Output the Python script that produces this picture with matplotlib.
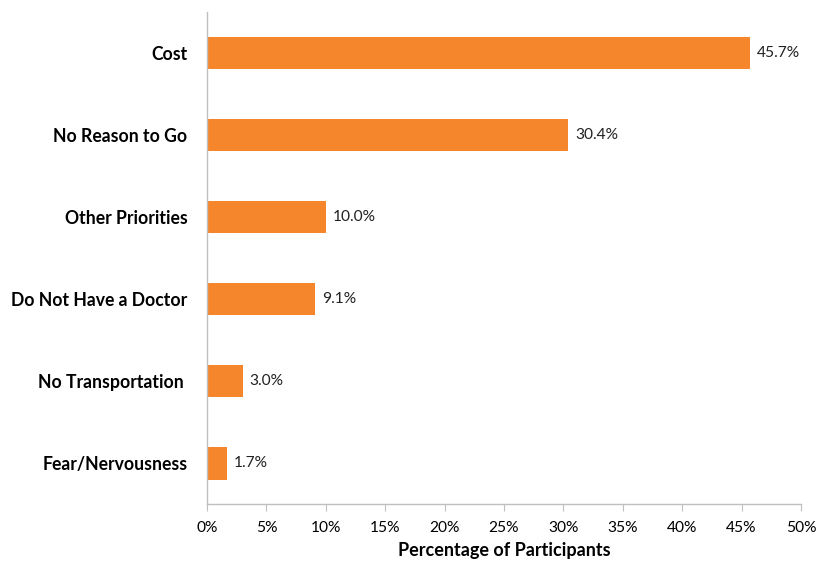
import matplotlib.pyplot as plt
from matplotlib.ticker import PercentFormatter

plt.rcParams['font.family'] = ['Lato', 'DejaVu Sans']

# survey answers, top to bottom
reasons = ['Cost', 'No Reason to Go', 'Other Priorities',
           'Do Not Have a Doctor', 'No Transportation ', 'Fear/Nervousness']
pct = [45.7, 30.4, 10.0, 9.1, 3.0, 1.7]

bar_color = '#F5862B'
axis_grey = '#BFBFBF'

fig = plt.figure(figsize=(8.19, 5.62), dpi=100)
ax = fig.add_axes([0.2527, 0.103, 0.7253, 0.8756])

ypos = list(range(len(reasons)))[::-1]
ax.barh(ypos, pct, height=0.4, color=bar_color)

for y, v in zip(ypos, pct):
    ax.text(v + 0.6, y, f'{v:.1f}%', va='center', ha='left', fontsize=11.2, color='#222222')

ax.set_xlim(0, 50)
ax.set_ylim(-0.5, len(reasons) - 0.5)
ax.set_xticks(range(0, 51, 5))
ax.xaxis.set_major_formatter(PercentFormatter(decimals=0))
ax.set_yticks(ypos)
ax.set_yticklabels(reasons, fontsize=12.7, fontweight='bold')
ax.tick_params(axis='y', length=0, pad=14)
ax.tick_params(axis='x', length=5, color=axis_grey, labelsize=11.2, pad=7)

for side in ['top', 'right']:
    ax.spines[side].set_visible(False)
for side in ['left', 'bottom']:
    ax.spines[side].set_color(axis_grey)
    ax.spines[side].set_linewidth(1.0)

ax.set_xlabel('Percentage of Participants', fontsize=13, fontweight='bold', labelpad=5)

fig.savefig('out.png', dpi=100)
